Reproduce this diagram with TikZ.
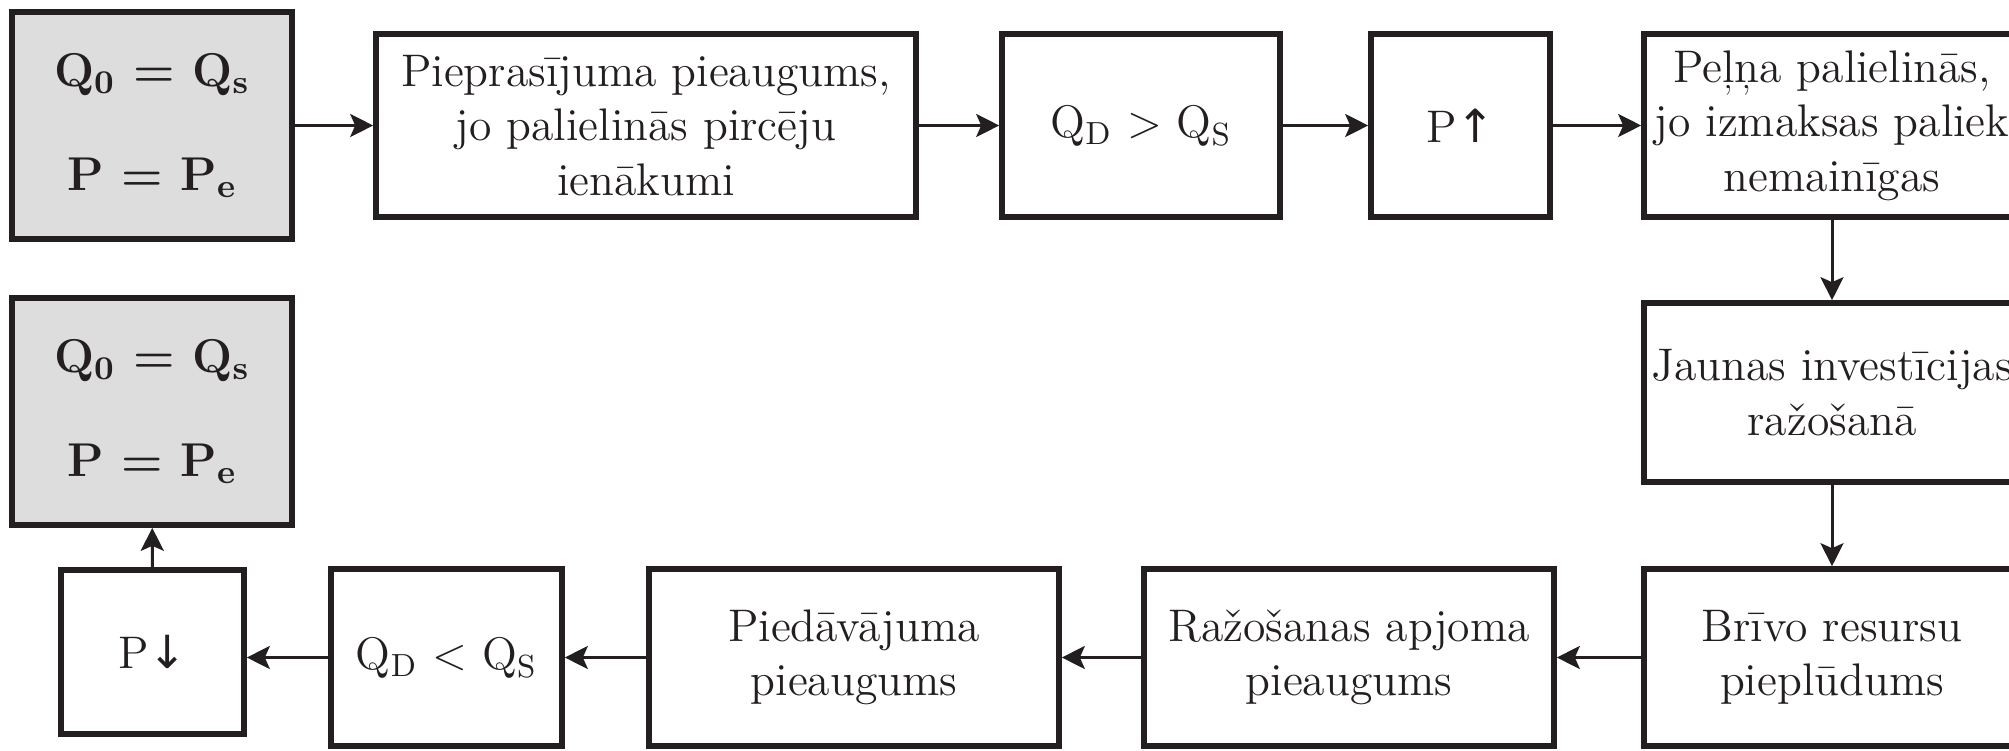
\documentclass[tikz,border=0pt]{standalone}
\usepackage{fontspec}
\usepackage{xcolor}
\usetikzlibrary{arrows.meta}
\newfontfamily\arrowfont{DejaVu Sans}
\definecolor{boxgray}{RGB}{221,221,221}
\definecolor{inkblack}{RGB}{35,31,32}

\begin{document}
\begin{tikzpicture}[
  every node/.style={rectangle, draw=inkblack, line width=1.6pt, fill=white,
    align=center, inner sep=2pt, text=inkblack,
    font=\fontsize{13}{15.5}\selectfont},
  stepbox/.style={minimum height=1.83cm},
  startbox/.style={fill=boxgray, minimum width=2.8cm, minimum height=2.27cm,
    font=\fontsize{13.5}{15.5}\selectfont\bfseries},
  flow/.style={draw=inkblack, line width=0.85pt,
    -{Stealth[length=2.3mm, width=2.3mm, inset=0.5mm]}}
]
\useasboundingbox (0,0) rectangle (20.09,7.5);
\clip (0,0) rectangle (20.09,7.5);

% Top row
\node[startbox] (S1) at (1.52, 6.245)
  {Q\textsubscript{0} = Q\textsubscript{s}\\[14pt] P = P\textsubscript{e}};
\node[stepbox, minimum width=5.40cm] (Dem) at (6.46, 6.245)
  {Pieprasījuma pieaugums,\\ jo palielinās pircēju\\ ienākumi};
\node[stepbox, minimum width=2.78cm] (QDg) at (11.41, 6.245)
  {Q\textsubscript{D} > Q\textsubscript{S}};
\node[stepbox, minimum width=1.79cm] (Pup) at (14.605, 6.245)
  {P{\arrowfont ↑}};
\node[stepbox, minimum width=3.76cm] (Prof) at (18.32, 6.245)
  {Peļņa palielinās,\\ jo izmaksas paliek\\ nemainīgas};

% Right column
\node[minimum width=3.76cm, minimum height=1.79cm] (Inv) at (18.32, 3.575)
  {Jaunas investīcijas\\ ražošanā};
\node[minimum width=3.76cm, minimum height=1.77cm] (Res) at (18.32, 0.925)
  {Brīvo resursu\\ pieplūdums};

% Bottom row
\node[minimum width=4.10cm, minimum height=1.77cm] (Out) at (13.49, 0.925)
  {Ražošanas apjoma\\ pieaugums};
\node[minimum width=4.10cm, minimum height=1.77cm] (Sup) at (8.54, 0.925)
  {Piedāvājuma\\ pieaugums};
\node[minimum width=2.31cm, minimum height=1.77cm] (QDl) at (4.465, 0.925)
  {Q\textsubscript{D} < Q\textsubscript{S}};
\node[minimum width=1.83cm, minimum height=1.64cm] (Pdn) at (1.525, 0.98)
  {P{\arrowfont ↓}};
\node[startbox] (S2) at (1.52, 3.385)
  {Q\textsubscript{0} = Q\textsubscript{s}\\[14pt] P = P\textsubscript{e}};

% ---- Edges ----
\draw[flow] (S1) -- (Dem);
\draw[flow] (Dem) -- (QDg);
\draw[flow] (QDg) -- (Pup);
\draw[flow] (Pup) -- (Prof);

\draw[flow] (Prof) -- (Inv);
\draw[flow] (Inv) -- (Res);

\draw[flow] (Res) -- (Out);
\draw[flow] (Out) -- (Sup);
\draw[flow] (Sup) -- (QDl);
\draw[flow] (QDl.west) -- (QDl.west -| Pdn.east);
\draw[flow] (Pdn) -- (S2);

\end{tikzpicture}
\end{document}
